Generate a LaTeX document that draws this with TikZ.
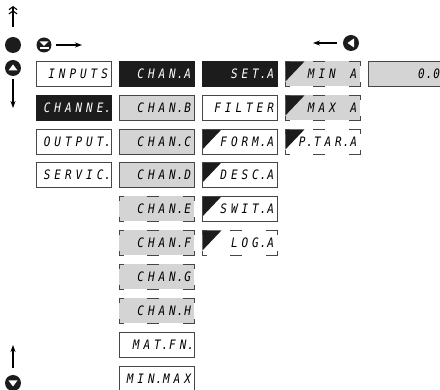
\documentclass[tikz,border=0pt]{standalone}
\usepackage{fontspec}
\usetikzlibrary{arrows.meta}
\newfontfamily\segfont[FakeStretch=0.85]{DejaVu Sans Mono}
\definecolor{lcd}{RGB}{212,212,212}
\definecolor{ink}{RGB}{28,28,28}
\definecolor{rim}{RGB}{70,70,70}
% seven-segment style layout: every character in a fixed cell, dots in a narrow cell, * = blank cell
\def\seg#1{\segloop#1\relax}
\def\segloop#1{\ifx#1\relax\else\segchar#1\expandafter\segloop\fi}
\def\segchar#1{\ifx#1.\makebox[4.5pt]{.}\else\ifx#1*\hspace*{10.6pt}\else\makebox[10.6pt]{#1}\fi\fi}
\newcommand\brackets[1]{%
  \draw[frame] ([yshift=-5pt]#1.north west) -- (#1.north west) -- ([xshift=5pt]#1.north west);
  \draw[frame] ([xshift=28pt]#1.north west) -- ([xshift=40pt]#1.north west);
  \draw[frame] ([xshift=-12pt]#1.north east) -- (#1.north east) -- ([yshift=-5pt]#1.north east);
  \draw[frame] ([yshift=5pt]#1.south west) -- (#1.south west) -- ([xshift=5pt]#1.south west);
  \draw[frame] ([xshift=28pt]#1.south west) -- ([xshift=40pt]#1.south west);
  \draw[frame] ([xshift=-12pt]#1.south east) -- (#1.south east) -- ([yshift=5pt]#1.south east);
}
\begin{document}
\begin{tikzpicture}[x=1pt,y=-1pt,
  box/.style={rectangle, anchor=north west, minimum width=75pt, minimum height=25pt,
    inner xsep=1.5pt, inner ysep=0pt, text width=72pt, align=right,
    font={\segfont\itshape\fontsize{13}{14}\selectfont},
    draw=rim, line width=0.9pt},
  wbox/.style={box, fill=white},
  bbox/.style={box, fill=ink, draw=ink, text=white},
  gbox/.style={box, fill=lcd},
  dgbox/.style={box, fill=lcd, draw=none},
  dwbox/.style={box, fill=white, draw=none},
  tri/.style={path picture={\fill[ink] (path picture bounding box.north west)
      -- ([xshift=19pt]path picture bounding box.north west)
      -- ([yshift=-20pt]path picture bounding box.north west) -- cycle;}},
  frame/.style={draw=rim, line width=0.9pt},
  btn/.style={circle, fill=ink, minimum size=16pt, inner sep=0pt},
  arr/.style={line width=1.1pt, -{Stealth[length=7pt,width=5pt]}},
  dblarr/.style={line width=1.1pt, -{Straight Barb[length=3pt,width=8pt] Straight Barb[length=3pt,width=8pt]}}
]
\useasboundingbox (0,0) rectangle (440,390);

% column 1
\node[wbox] (inputs) at (36,61) {\seg{INPUTS}};
\node[bbox] (channe) at (36,95) {\seg{CHANNE.}};
\node[wbox] (output) at (36,129) {\seg{OUTPUT.}};
\node[wbox] (servic) at (36,162) {\seg{SERVIC.}};

% column 2
\node[bbox]  (ca) at (119,61)  {\seg{CHAN.A}};
\node[gbox]  (cb) at (119,95)  {\seg{CHAN.B}};
\node[gbox]  (cc) at (119,129) {\seg{CHAN.C}};
\node[gbox]  (cd) at (119,162) {\seg{CHAN.D}};
\node[dgbox] (ce) at (119,196) {\seg{CHAN.E}};
\node[dgbox] (cf) at (119,230) {\seg{CHAN.F}};
\node[dgbox] (cg) at (119,264) {\seg{CHAN.G}};
\node[dgbox] (ch) at (119,298) {\seg{CHAN.H}};
\node[wbox]  (matfn) at (119,332) {\seg{MAT.FN.}};
\node[wbox]  (minmax) at (119,366) {\seg{MIN.MAX}};

% column 3
\node[bbox] (seta) at (202,61) {\seg{SET.A}};
\node[wbox] (filter) at (202,95) {\seg{FILTER}};
\node[wbox,tri] (forma) at (202,129) {\seg{FORM.A}};
\node[wbox,tri] (desca) at (202,162) {\seg{DESC.A}};
\node[wbox,tri] (swita) at (202,196) {\seg{SWIT.A}};
\node[dwbox,tri] (loga) at (202,230) {\seg{LOG.A}};

% column 4
\node[dgbox,tri] (mina) at (285,61) {\seg{MIN*A}};
\node[dgbox,tri] (maxa) at (285,95) {\seg{MAX*A}};
\node[dwbox,tri] (ptar) at (285,129) {\seg{P.TAR.A}};

% column 5
\node[gbox] (val) at (368,61) {\seg{0.0}};

\foreach \n in {ce,cf,cg,ch,loga,mina,maxa,ptar} {\brackets{\n}}

% keys and arrows
\coordinate (dblS) at (13,27);
\coordinate (dblE) at (13,6);
\draw[dblarr] (dblS) -- (dblE);

\node[btn] (enter) at (13,45) {};
\node[btn] (upk) at (13,68) {};
\fill[white] ([xshift=-4.5pt,yshift=-2.5pt]upk.center) -- ([xshift=4.5pt,yshift=-2.5pt]upk.center) -- ([yshift=3.5pt]upk.center) -- cycle;
\coordinate (dnE) at (13,108);
\draw[arr] ([yshift=-3pt]upk.south) -- (dnE);

\node[btn, minimum size=15pt] (ej) at (44,45) {};
\fill[white] ([xshift=-4.5pt,yshift=3.5pt]ej.center) -- ([xshift=4.5pt,yshift=3.5pt]ej.center) -- ([yshift=-1pt]ej.center) -- cycle;
\fill[white] ([xshift=-4.5pt,yshift=-2.3pt]ej.center) rectangle ([xshift=4.5pt,yshift=-4pt]ej.center);
\coordinate (rE) at (82,45);
\draw[arr] ([xshift=4pt]ej.east) -- (rE);

\node[btn] (lk) at (351,43) {};
\fill[white] ([xshift=3pt,yshift=-4.5pt]lk.center) -- ([xshift=3pt,yshift=4.5pt]lk.center) -- ([xshift=-3.5pt]lk.center) -- cycle;
\coordinate (lE) at (313,43);
\draw[arr] ([xshift=-6pt]lk.west) -- (lE);

\node[btn] (dk) at (13,383) {};
\fill[white] ([xshift=-4.5pt,yshift=2.5pt]dk.center) -- ([xshift=4.5pt,yshift=2.5pt]dk.center) -- ([yshift=-3.5pt]dk.center) -- cycle;
\coordinate (uE) at (13,345);
\draw[arr] ([yshift=7pt]dk.north) -- (uE);
\end{tikzpicture}
\end{document}
